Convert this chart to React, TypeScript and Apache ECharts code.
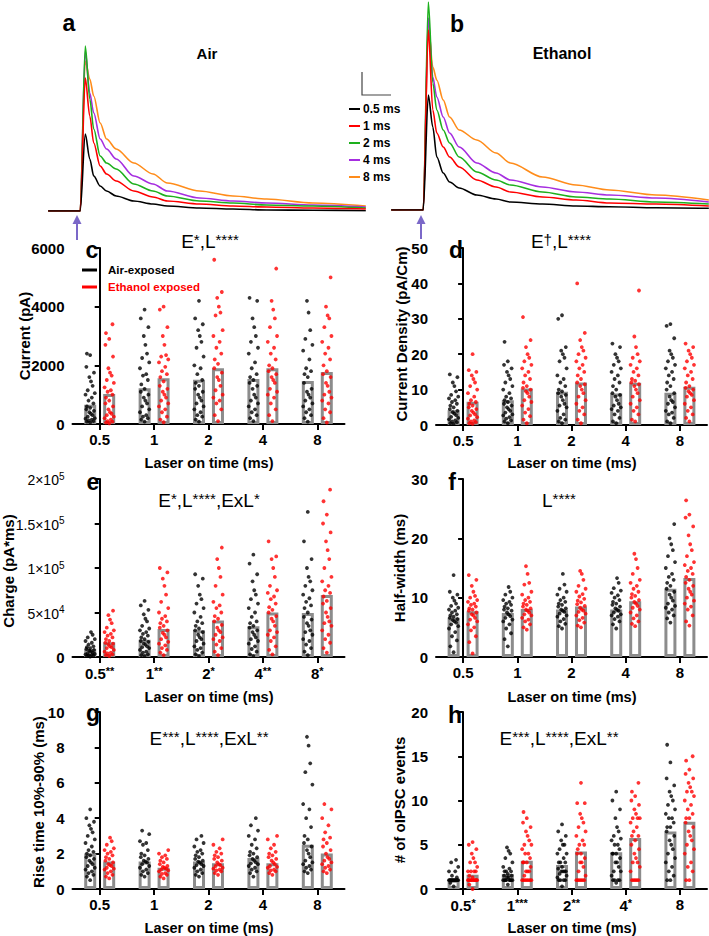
import React, { useEffect, useRef } from 'react';
import * as echarts from 'echarts';

const FONT = '"Liberation Sans", Arial, Helvetica, sans-serif';

// ---------- categories ----------
const LASER = ['0.5', '1', '2', '4', '8'];
const CHARGE_SIG = ['**', '**', '*', '**', '*'];
const EVENTS_SIG = ['*', '***', '**', '*', ''];

// ---------- example traces (height above baseline, arbitrary units) ----------
const TRACE_TIME = [-20.5, -0.5, 2.7, 5.5, 8, 12, 16, 22, 33, 45, 54, 74, 95, 116, 145, 178];
const AIR_T05 = [0, 0, 77, 52, 35, 25, 20, 15, 10, 7, 5, 3, 2, 1, 0.7, 0.3];
const AIR_T1 = [0, 0, 133, 95, 68, 45, 37, 30, 20, 14, 10, 7, 5, 4, 3, 2];
const AIR_T2 = [0, 0, 165, 112, 82, 55, 48, 42, 27, 20, 15, 10, 8, 6, 5, 3];
const AIR_T4 = [0, 0, 160, 118, 98, 72, 62, 52, 35, 27, 20, 13, 10, 8, 6, 4];
const AIR_T8 = [0, 0, 150, 132, 115, 88, 72, 62, 48, 37, 28, 20, 15, 12, 8, 5];
const ETH_T05 = [0, 0, 115, 83, 53, 37, 28, 22, 15, 11, 8, 6, 4, 3.3, 2.3, 1.7];
const ETH_T1 = [0, 0, 180, 100, 77, 63, 53, 43, 30, 23, 18, 13, 10, 7, 6, 4];
const ETH_T2 = [0, 0, 208, 127, 100, 80, 67, 53, 38, 30, 25, 18, 13, 11, 8, 6];
const ETH_T4 = [0, 0, 192, 133, 113, 93, 77, 63, 47, 37, 30, 23, 18, 15, 12, 8];
const ETH_T8 = [0, 0, 186, 143, 130, 110, 93, 80, 70, 57, 47, 33, 25, 20, 15, 10];
const TRACE_NAMES = ['0.5 ms', '1 ms', '2 ms', '4 ms', '8 ms'];
const TRACE_COLORS = ['#000000', '#ff0000', '#1db01d', '#a62ee0', '#ff8c1a'];

// ---------- c: current (pA) ----------
const CURRENT_AIR_MEAN = [657, 1220, 1506, 1530, 1470];
const CURRENT_ETH_MEAN = [1020, 1560, 1900, 1900, 1770];
const CURRENT_AIR = [
  [50, 80, 100, 120, 150, 180, 200, 250, 300, 350, 400, 450, 500, 550, 600, 700, 800, 900, 1000, 1050, 1150, 1300, 1450, 1600, 1750, 1950, 2350, 2400],
  [80, 150, 200, 250, 300, 400, 500, 600, 700, 800, 900, 1000, 1100, 1200, 1350, 1500, 1650, 1700, 1900, 2100, 2250, 2400, 2700, 3000, 3300, 3600, 3900],
  [80, 150, 250, 300, 400, 500, 600, 700, 800, 900, 1000, 1100, 1200, 1300, 1400, 1500, 1700, 1900, 2000, 2300, 2600, 2800, 3000, 3200, 3400, 3600, 4200],
  [100, 200, 300, 400, 500, 600, 700, 800, 900, 1000, 1200, 1300, 1400, 1500, 1600, 1700, 1900, 2100, 2400, 2600, 2800, 3000, 3300, 3600, 4200, 4300],
  [80, 200, 300, 400, 500, 600, 700, 800, 900, 1000, 1100, 1200, 1400, 1600, 1700, 1800, 1900, 2200, 2500, 2700, 2900, 3200, 3800, 4200],
];
const CURRENT_ETH = [
  [20, 50, 80, 100, 150, 200, 250, 300, 350, 400, 500, 600, 700, 800, 900, 1000, 1100, 1150, 1250, 1400, 1500, 1650, 1750, 1900, 2300, 2700, 2900, 3100, 3400],
  [60, 150, 250, 400, 500, 600, 700, 800, 900, 1000, 1100, 1200, 1300, 1450, 1600, 1700, 1800, 1950, 2100, 2200, 2300, 2350, 2700, 3000, 3300, 3900, 4000],
  [100, 300, 500, 700, 800, 900, 1000, 1150, 1300, 1500, 1600, 1750, 1900, 2050, 2200, 2400, 2600, 2800, 3000, 3200, 3700, 3800, 4000, 4300, 4500, 5600],
  [100, 300, 500, 700, 900, 1000, 1100, 1200, 1400, 1500, 1600, 1700, 1800, 1900, 2000, 2200, 2400, 2600, 2800, 3000, 3300, 3600, 3900, 4200, 5300],
  [50, 200, 400, 500, 700, 800, 900, 1000, 1100, 1300, 1400, 1600, 1700, 1800, 2000, 2200, 2400, 2600, 2800, 3000, 3300, 3600, 3700, 4000, 5000],
];

// ---------- d: current density (pA/Cm) ----------
const DENSITY_AIR_MEAN = [4.2, 7.0, 9.4, 8.9, 9.1];
const DENSITY_ETH_MEAN = [6.6, 10.3, 12.0, 11.9, 10.8];
const DENSITY_AIR = [
  [0.3, 0.5, 0.8, 1, 1.3, 1.6, 2, 2.3, 2.8, 3.2, 3.6, 4, 4.5, 5, 5.5, 6, 6.5, 7, 7.5, 8, 8.5, 9.5, 11, 12, 13.5, 14.3],
  [0.5, 1, 1.3, 1.8, 2.2, 2.7, 3, 3.5, 4, 4.5, 5, 5.5, 6, 6.5, 7, 7.5, 8, 9, 10, 11, 12, 13, 14, 15, 16, 17, 18, 23.5],
  [0.5, 1, 1.5, 2, 3, 4, 5, 5.5, 6, 7, 8, 8.5, 9, 9.5, 10, 11, 12, 13, 14, 16, 18, 19, 20, 21, 22, 30, 31],
  [0.5, 1, 2, 3, 4, 4.5, 5, 5.5, 6, 7, 8, 8.5, 9, 10, 11, 12, 13, 14, 15, 16, 17, 18, 19, 20, 22, 23],
  [0.5, 1, 2, 3, 3.5, 4, 5, 6, 6.5, 7, 8, 9, 10, 11, 12, 13, 14, 15, 16, 17, 18, 19, 20, 21, 24.5, 28, 28.5],
];
const DENSITY_ETH = [
  [0.3, 0.5, 0.8, 1, 1.3, 1.8, 2.2, 2.7, 3, 3.5, 4, 4.5, 5, 5.5, 6, 6.5, 7, 8, 9, 10, 11, 12, 13, 14, 15, 15.5, 20],
  [0.5, 1.5, 2.5, 3.5, 4.5, 5.5, 6.5, 7, 8, 9, 9.5, 10, 10.5, 11, 12, 13, 14, 15, 16, 17, 18, 19, 20, 22, 24, 30.5],
  [0.5, 1.5, 3, 4, 5, 6, 7, 8, 9, 10, 11, 11.5, 12, 13, 14, 15, 16, 17, 18, 19, 20, 21, 22, 24, 26, 40],
  [1, 1.5, 3, 4, 5, 6, 7, 8, 9, 10, 11, 11.5, 12, 12.5, 13, 14, 15, 16, 17, 18, 19, 20, 22, 25, 38],
  [1, 2, 3, 4, 5, 6, 7, 8, 8.5, 9, 9.5, 10, 10.5, 11, 12, 13, 14, 15, 16, 17, 18, 19, 20, 21, 22, 23],
];

// ---------- e: charge (pA*ms) ----------
const CHARGE_AIR_MEAN = [9000, 19500, 30000, 34500, 49400];
const CHARGE_ETH_MEAN = [16500, 31500, 41000, 50000, 69700];
const CHARGE_AIR = [
  [500, 1000, 1500, 2000, 2500, 3000, 3500, 4000, 5000, 6000, 7000, 8000, 9000, 10000, 11000, 12000, 14000, 16000, 18000, 20000, 22000, 25000, 28000],
  [1000, 2000, 3000, 5000, 6000, 8000, 10000, 11000, 12000, 14000, 15000, 17000, 18000, 20000, 22000, 24000, 26000, 28000, 30000, 32000, 35000, 40000, 43000, 48000, 53000, 58000, 63000],
  [1000, 3000, 5000, 8000, 10000, 12000, 15000, 18000, 20000, 22000, 25000, 28000, 30000, 32000, 35000, 38000, 40000, 45000, 50000, 55000, 60000, 65000, 70000, 80000, 88000, 93000],
  [1000, 3000, 6000, 9000, 12000, 15000, 18000, 20000, 22000, 25000, 28000, 30000, 33000, 35000, 38000, 40000, 45000, 50000, 55000, 60000, 65000, 70000, 75000, 85000, 93000, 105000, 115000],
  [2000, 6000, 10000, 14000, 18000, 20000, 25000, 28000, 30000, 35000, 38000, 42000, 45000, 50000, 55000, 58000, 62000, 66000, 70000, 75000, 80000, 85000, 90000, 100000, 110000, 130000, 163000],
];
const CHARGE_ETH = [
  [1000, 2000, 3000, 4000, 5000, 6000, 8000, 10000, 11000, 12000, 14000, 15000, 16000, 18000, 20000, 22000, 24000, 26000, 28000, 30000, 33000, 38000, 42000, 47000, 52000],
  [2000, 5000, 8000, 10000, 13000, 15000, 17000, 20000, 22000, 25000, 27000, 30000, 33000, 35000, 38000, 40000, 43000, 46000, 50000, 55000, 62000, 70000, 80000, 88000, 95000, 100000],
  [2000, 6000, 10000, 14000, 18000, 20000, 22000, 25000, 28000, 30000, 33000, 36000, 40000, 43000, 46000, 50000, 55000, 58000, 62000, 70000, 80000, 90000, 100000, 110000, 123000],
  [3000, 8000, 12000, 18000, 22000, 25000, 28000, 30000, 35000, 40000, 43000, 46000, 50000, 53000, 56000, 60000, 65000, 68000, 72000, 75000, 80000, 90000, 100000, 110000, 113000, 130000],
  [5000, 10000, 16000, 20000, 25000, 30000, 35000, 38000, 40000, 45000, 50000, 55000, 60000, 63000, 68000, 72000, 75000, 80000, 85000, 90000, 100000, 110000, 120000, 130000, 140000, 150000, 160000, 175000, 188000],
];

// ---------- f: half-width (ms) ----------
const HALF_AIR_MEAN = [6.6, 7.4, 8.0, 8.0, 11.5];
const HALF_ETH_MEAN = [7.7, 8.1, 8.5, 9.4, 13.3];
const HALF_AIR = [
  [0.8, 1.8, 2.8, 3.5, 4.2, 4.8, 5.2, 5.5, 5.8, 6, 6.2, 6.4, 6.6, 6.8, 7, 7.2, 7.5, 7.8, 8, 8.3, 8.6, 9, 9.5, 10, 10.5, 11, 13.8],
  [1.8, 3, 4, 4.8, 5.5, 6, 6.3, 6.6, 6.9, 7.2, 7.5, 7.8, 8, 8.2, 8.5, 8.8, 9, 9.3, 9.6, 10, 10.5, 11, 11.8],
  [4.8, 5.2, 5.6, 6, 6.4, 6.8, 7, 7.3, 7.6, 7.8, 8, 8.2, 8.5, 8.8, 9, 9.3, 9.6, 10, 10.5, 11, 11.5, 12.2, 14],
  [4.8, 5.5, 6, 6.4, 6.8, 7, 7.2, 7.5, 7.8, 8, 8.2, 8.5, 8.8, 9, 9.3, 9.6, 10, 10.4, 10.8, 11.2, 11.6, 12.5, 13.3],
  [5.8, 6.5, 7, 7.5, 8, 8.3, 8.6, 9, 9.5, 10, 10.5, 11, 11.5, 12, 12.5, 13, 13.5, 14, 15, 16, 17, 18, 19, 20, 22.4],
];
const HALF_ETH = [
  [0.6, 2.5, 3.5, 4.5, 5, 5.5, 6, 6.3, 6.6, 7, 7.2, 7.5, 7.8, 8, 8.2, 8.5, 8.8, 9, 9.3, 9.6, 10, 10.3, 11, 12, 13, 13.8],
  [4.6, 5, 5.5, 6, 6.3, 6.6, 7, 7.2, 7.5, 7.8, 8, 8.2, 8.5, 8.8, 9, 9.3, 9.6, 10, 10.5, 11, 12.2, 12.5, 14, 15.3],
  [5, 5.3, 5.8, 6.2, 6.6, 7, 7.3, 7.6, 7.8, 8, 8.3, 8.6, 8.9, 9.2, 9.5, 9.8, 10.2, 10.6, 11, 11.5, 12, 13, 14, 14.5],
  [5.2, 5.6, 6, 6.5, 7, 7.5, 8, 8.3, 8.6, 9, 9.3, 9.6, 10, 10.3, 10.6, 11, 11.5, 12, 12.5, 13, 14, 15, 16.5, 17.4],
  [5.3, 6, 7, 8, 8.5, 9, 9.5, 10, 10.5, 11, 11.5, 12, 12.5, 13, 13.5, 14, 14.5, 15, 15.5, 16, 17, 18, 19, 20.5, 22, 23.5, 24, 26.4],
];

// ---------- g: rise time (ms) ----------
const RISE_AIR_MEAN = [2.0, 1.55, 1.55, 1.75, 2.5];
const RISE_ETH_MEAN = [1.55, 1.2, 1.45, 1.45, 2.0];
const RISE_AIR = [
  [0.5, 0.7, 0.8, 0.9, 1, 1.1, 1.2, 1.3, 1.4, 1.5, 1.6, 1.7, 1.8, 1.9, 2, 2.1, 2.2, 2.4, 2.6, 2.8, 3, 3.2, 3.4, 3.6, 3.8, 4, 4.5],
  [0.7, 0.8, 0.9, 1, 1.1, 1.2, 1.3, 1.4, 1.5, 1.55, 1.6, 1.7, 1.8, 1.9, 2, 2.2, 2.5, 2.6, 2.7, 3.1, 3.3],
  [0.7, 0.8, 0.9, 1, 1.1, 1.2, 1.3, 1.35, 1.4, 1.5, 1.55, 1.6, 1.7, 1.8, 1.9, 2, 2.1, 2.2, 2.4, 2.6, 2.8, 3],
  [0.7, 0.9, 1, 1.1, 1.2, 1.3, 1.4, 1.45, 1.5, 1.6, 1.7, 1.8, 1.9, 2, 2.1, 2.3, 2.5, 2.8, 3, 3.3, 3.6, 4],
  [0.9, 1, 1.1, 1.2, 1.3, 1.4, 1.5, 1.6, 1.8, 2, 2.2, 2.4, 2.6, 2.8, 3, 3.5, 4, 4.5, 4.8, 5.9, 6.6, 7.1, 8.1, 8.6],
];
const RISE_ETH = [
  [0.6, 0.7, 0.8, 0.9, 1, 1.1, 1.15, 1.2, 1.3, 1.35, 1.4, 1.5, 1.6, 1.7, 1.8, 1.9, 2, 2.1, 2.2, 2.3, 2.5, 2.7, 2.9],
  [0.6, 0.7, 0.8, 0.85, 0.9, 1, 1.05, 1.1, 1.15, 1.2, 1.25, 1.3, 1.4, 1.5, 1.6, 1.7, 1.8, 1.9, 2, 2.2],
  [0.8, 0.9, 1, 1.05, 1.1, 1.15, 1.2, 1.3, 1.35, 1.4, 1.5, 1.6, 1.7, 1.8, 1.9, 2, 2.1, 2.3, 2.5, 2.8],
  [0.8, 0.9, 1, 1.05, 1.1, 1.2, 1.25, 1.3, 1.4, 1.5, 1.6, 1.7, 1.8, 1.9, 2, 2.1, 2.3, 2.5, 2.8, 3],
  [0.9, 1, 1.1, 1.2, 1.3, 1.4, 1.5, 1.6, 1.7, 1.8, 2, 2.2, 2.4, 2.6, 2.8, 2.9, 3.2, 3.6, 4, 4.5, 4.8],
];

// ---------- h: # of oIPSC events ----------
const EVENTS_AIR_MEAN = [1.05, 1.7, 2.7, 4.15, 6.5];
const EVENTS_ETH_MEAN = [1.6, 3.2, 4.25, 5.75, 7.6];
const EVENTS_AIR = [
  [0.3, 0.7, 1, 1, 1, 1, 1, 1, 1, 1, 1, 1, 1, 1, 1, 1.3, 1.5, 2, 2, 2.5, 3, 3.3],
  [0.5, 1, 1, 1, 1, 1, 1, 1, 1, 1.3, 1.3, 1.5, 1.5, 1.7, 2, 2, 2, 2.3, 2.5, 3, 3.5, 4, 4.3, 4.7],
  [0.3, 1, 1, 1, 1, 1.3, 1.5, 1.7, 2, 2, 2, 2, 2.3, 2.5, 3, 3, 3, 3.5, 4, 4, 4.5, 5, 5, 5.5, 6, 6.5, 7.3],
  [0.7, 1, 1, 1, 1, 1.5, 2, 2, 2.5, 3, 3, 3.5, 4, 4, 4, 4.5, 5, 5, 5.5, 5.7, 6, 6.5, 7, 8, 9, 10, 11],
  [1, 1, 1.5, 2, 2.5, 3, 3.5, 4, 4.5, 5, 5.5, 6, 6.5, 7, 7, 7.5, 8, 8, 8.5, 9, 9.5, 10, 10.5, 11, 11.7, 12.5, 14.3, 16.3],
];
const EVENTS_ETH = [
  [0, 0.5, 1, 1, 1, 1, 1, 1, 1, 1, 1, 1, 1, 1.3, 1.5, 2, 2, 2, 2, 2.5, 3, 3, 3.5, 4, 4.5, 5, 5.3],
  [1, 1, 1, 1, 1, 1, 1, 1.5, 2, 2, 2, 2.5, 3, 3, 3, 3.5, 4, 4, 4.5, 5, 5, 5.5, 6, 6.5, 7, 7.5, 8, 8.7],
  [1, 1, 1, 1, 1, 1, 1.5, 2, 2.5, 3, 3, 3.5, 4, 4, 4.5, 5, 5, 5.5, 6, 6.5, 7, 7.5, 8, 8.5, 9.7, 9.7, 12],
  [1, 1, 1, 1, 1, 2, 2.5, 3, 3, 3.5, 4, 4.5, 5, 5.5, 6, 6, 6.5, 7, 7.5, 8, 8, 8, 8.5, 9, 9.5, 10, 10.5, 11, 12],
  [1, 1, 2, 2.5, 3, 4, 4.5, 5, 5.5, 6, 6.5, 7, 7.5, 8, 8, 8.5, 9, 9.5, 10, 10.5, 11, 11, 11.5, 12, 12.5, 13, 13.5, 14.5, 15],
];

// horizontal spread pattern for the dot clouds (fraction of a category band)
const JITTER = [0, -0.06, 0.06, -0.03, 0.03, -0.085, 0.085, -0.045, 0.045, 0.015, -0.015, 0.07, -0.07];
const SIDE_OFFSET = 0.175;

function dots(groups: number[][], side: number) {
  const out: number[][] = [];
  groups.forEach((vals, ci) => {
    vals.forEach((v, j) => {
      out.push([ci + side * SIDE_OFFSET + JITTER[j % JITTER.length], v]);
    });
  });
  return out;
}

function chargeLabel(v: number) {
  if (v === 0) return '{z|0}';
  const map: Record<number, string> = {
    50000: '{b|5×10}{s|4}',
    100000: '{b|1×10}{s|5}',
    150000: '{b|1.5×10}{s|5}',
    200000: '{b|2×10}{s|5}',
  };
  return map[v] || '';
}

function buildOption() {
  const panels = [
    { air: CURRENT_AIR, eth: CURRENT_ETH, airMean: CURRENT_AIR_MEAN, ethMean: CURRENT_ETH_MEAN, max: 6000, interval: 2000, left: 72.5, top: 248, width: 272, height: 176, sig: null as string[] | null, charge: false },
    { air: DENSITY_AIR, eth: DENSITY_ETH, airMean: DENSITY_AIR_MEAN, ethMean: DENSITY_ETH_MEAN, max: 50, interval: 10, left: 436, top: 248, width: 271, height: 177, sig: null, charge: false },
    { air: CHARGE_AIR, eth: CHARGE_ETH, airMean: CHARGE_AIR_MEAN, ethMean: CHARGE_ETH_MEAN, max: 200000, interval: 50000, left: 72.5, top: 479, width: 272, height: 178, sig: CHARGE_SIG, charge: true },
    { air: HALF_AIR, eth: HALF_ETH, airMean: HALF_AIR_MEAN, ethMean: HALF_ETH_MEAN, max: 30, interval: 10, left: 436, top: 479, width: 271, height: 178, sig: null, charge: false },
    { air: RISE_AIR, eth: RISE_ETH, airMean: RISE_AIR_MEAN, ethMean: RISE_ETH_MEAN, max: 10, interval: 2, left: 72.5, top: 712, width: 272, height: 177, sig: null, charge: false },
    { air: EVENTS_AIR, eth: EVENTS_ETH, airMean: EVENTS_AIR_MEAN, ethMean: EVENTS_ETH_MEAN, max: 20, interval: 5, left: 436, top: 712, width: 271, height: 177, sig: EVENTS_SIG, charge: false },
  ];

  const grid: any[] = [
    { left: 48, top: 0, width: 317, height: 211, outerBoundsMode: 'none' },
    { left: 392, top: 0, width: 317, height: 210, outerBoundsMode: 'none' },
  ];
  const xAxis: any[] = [
    { type: 'value', gridIndex: 0, min: -20.6, max: 177.5, show: false },
    { type: 'value', gridIndex: 1, min: -20, max: 178.1, show: false },
  ];
  const yAxis: any[] = [
    { type: 'value', gridIndex: 0, min: 0, max: 211, show: false },
    { type: 'value', gridIndex: 1, min: 0, max: 210, show: false },
  ];
  const series: any[] = [];

  const airTraces = [AIR_T05, AIR_T1, AIR_T2, AIR_T4, AIR_T8];
  const ethTraces = [ETH_T05, ETH_T1, ETH_T2, ETH_T4, ETH_T8];
  [airTraces, ethTraces].forEach((set, gi) => {
    for (let k = 4; k >= 0; k--) {
      series.push({
        type: 'line',
        name: TRACE_NAMES[k],
        xAxisIndex: gi,
        yAxisIndex: gi,
        data: TRACE_TIME.map((t, i) => [t, set[k][i]]),
        symbol: 'none',
        smooth: 0.3,
        smoothMonotone: 'x',
        lineStyle: { color: TRACE_COLORS[k], width: 1.6 },
        z: 2,
      });
    }
  });

  const axisLine = { show: true, lineStyle: { color: '#000', width: 2 } };

  panels.forEach((p, k) => {
    const g = 2 + k;
    grid.push({ left: p.left, top: p.top, width: p.width, height: p.height, outerBoundsMode: 'none' });
    const catIdx = xAxis.length;
    const sig = p.sig;
    xAxis.push({
      type: 'category',
      gridIndex: g,
      data: LASER,
      axisLine,
      axisTick: { show: true, alignWithLabel: true, length: 6, lineStyle: { color: '#000', width: 2 } },
      axisLabel: {
        interval: 0,
        hideOverlap: false,
        margin: 8,
        color: '#000',
        fontSize: 15,
        fontWeight: 'bold',
        fontFamily: FONT,
        formatter: sig
          ? (v: string, i: number) => (sig[i] ? `{n|${v}}{s|${sig[i]}}` : `{n|${v}}`)
          : (v: string) => v,
        rich: sig
          ? {
              n: { fontSize: 15, fontWeight: 'bold', fontFamily: FONT, color: '#000', verticalAlign: 'bottom' },
              s: { fontSize: 11, fontFamily: FONT, color: '#000', verticalAlign: 'bottom', padding: [0, 0, 5, 0] },
            }
          : undefined,
      },
      splitLine: { show: false },
    });
    const valIdx = xAxis.length;
    xAxis.push({ type: 'value', gridIndex: g, min: -0.5, max: 4.5, show: false });
    const yIdx = yAxis.length;
    yAxis.push({
      type: 'value',
      gridIndex: g,
      min: 0,
      max: p.max,
      interval: p.interval,
      axisLine,
      axisTick: { show: true, length: 5, lineStyle: { color: '#000', width: 2 } },
      splitLine: { show: false },
      axisLabel: p.charge
        ? {
            margin: 8,
            formatter: chargeLabel,
            rich: {
              z: { fontSize: 15, fontWeight: 'bold', fontFamily: FONT, color: '#000' },
              b: { fontSize: 14, fontFamily: FONT, color: '#000', verticalAlign: 'bottom' },
              s: { fontSize: 10, fontFamily: FONT, color: '#000', verticalAlign: 'bottom', padding: [0, 0, 6, 0] },
            },
          }
        : {
            margin: 8, color: '#000', fontSize: 15, fontWeight: 'bold', fontFamily: FONT,
            formatter: (v: number) => String(v),
          },
    });

    const barStyle = { color: '#ffffff', borderColor: '#8c8c8c', borderWidth: 3 };
    series.push({
      type: 'bar', name: 'Air-exposed', xAxisIndex: catIdx, yAxisIndex: yIdx,
      data: p.airMean, barWidth: 12, barGap: '58%', itemStyle: barStyle, z: 2,
    });
    series.push({
      type: 'bar', name: 'Ethanol exposed', xAxisIndex: catIdx, yAxisIndex: yIdx,
      data: p.ethMean, barWidth: 12, barGap: '58%', itemStyle: barStyle, z: 2,
    });
    series.push({
      type: 'scatter', name: 'Air-exposed', xAxisIndex: valIdx, yAxisIndex: yIdx,
      data: dots(p.air, -1), symbol: 'circle', symbolSize: 3.8,
      itemStyle: { color: '#000000' }, z: 3,
    });
    series.push({
      type: 'scatter', name: 'Ethanol exposed', xAxisIndex: valIdx, yAxisIndex: yIdx,
      data: dots(p.eth, 1), symbol: 'circle', symbolSize: 3.8,
      itemStyle: { color: '#ff0000' }, z: 3,
    });
  });

  const txt = (text: string, x: number, y: number, extra: any = {}) => ({
    type: 'text', x, y, silent: true, z: 10,
    style: {
      text, fill: '#000', fontFamily: FONT, fontSize: 15, fontWeight: 'bold',
      textAlign: 'center', align: 'center', textVerticalAlign: 'middle', verticalAlign: 'middle',
      ...extra,
    },
  });
  const vtxt = (text: string, x: number, y: number) => ({ ...txt(text, x, y), rotation: Math.PI / 2 });

  const titleRich = {
    n: { fontSize: 19, fontFamily: FONT, fill: '#000', color: '#000', verticalAlign: 'bottom' },
    s: { fontSize: 15, fontFamily: FONT, fill: '#000', color: '#000', verticalAlign: 'bottom', padding: [0, 0, 4, 0] },
  };
  const stat = (text: string, x: number, y: number) => txt(text, x, y, { fontWeight: 'normal', fontSize: 19, rich: titleRich });

  const graphic: any[] = [
    // panel letters
    txt('a', 69, 23, { fontSize: 23 }),
    txt('b', 457, 24, { fontSize: 23 }),
    txt('c', 92, 250, { fontSize: 23 }),
    txt('d', 456, 250, { fontSize: 23 }),
    txt('e', 93, 482, { fontSize: 23 }),
    txt('f', 452, 482, { fontSize: 23 }),
    txt('g', 93, 713, { fontSize: 23 }),
    txt('h', 455, 715, { fontSize: 23 }),
    // trace titles
    txt('Air', 207, 53, { fontSize: 15 }),
    txt('Ethanol', 562, 53, { fontSize: 16 }),
    // statistics
    stat('{n|E}{s|*}{n|,L}{s|****}', 210, 241),
    stat('{n|E}{s|†}{n|,L}{s|****}', 561, 241),
    stat('{n|E}{s|*}{n|,L}{s|****}{n|,ExL}{s|*}', 209, 500),
    stat('{n|L}{s|****}', 559, 500),
    stat('{n|E}{s|***}{n|,L}{s|****}{n|,ExL}{s|**}', 209, 738),
    stat('{n|E}{s|***}{n|,L}{s|****}{n|,ExL}{s|**}', 559, 738),
    // y titles
    vtxt('Current (pA)', 24, 336),
    vtxt('Current Density (pA/Cm)', 401, 334),
    vtxt('Charge (pA*ms)', 8, 571),
    vtxt('Half-width (ms)', 399, 568),
    vtxt('Rise time 10%-90% (ms)', 38, 802),
    vtxt('# of oIPSC events', 399, 800),
    // x titles
    txt('Laser on time (ms)', 209, 463, { fontSize: 14.5 }),
    txt('Laser on time (ms)', 572, 463, { fontSize: 14.5 }),
    txt('Laser on time (ms)', 209, 697, { fontSize: 14.5 }),
    txt('Laser on time (ms)', 572, 697, { fontSize: 14.5 }),
    txt('Laser on time (ms)', 209, 928, { fontSize: 14.5 }),
    txt('Laser on time (ms)', 572, 928, { fontSize: 14.5 }),
    // legend in c
    { type: 'line', silent: true, shape: { x1: 82, y1: 270, x2: 97, y2: 270 }, style: { stroke: '#000', lineWidth: 3 } },
    { type: 'line', silent: true, shape: { x1: 82, y1: 287, x2: 97, y2: 287 }, style: { stroke: '#ff0000', lineWidth: 3 } },
    txt('Air-exposed', 108, 270, { fontSize: 11.5, textAlign: 'left', align: 'left' }),
    txt('Ethanol exposed', 108, 287, { fontSize: 11.5, textAlign: 'left', align: 'left', fill: '#ff0000' }),
    // scale bar
    { type: 'polyline', silent: true, shape: { points: [[362, 72], [362, 95], [391, 95]] }, style: { stroke: '#444', lineWidth: 1.2, fill: 'none' } },
    // stimulus arrows
    { type: 'polygon', silent: true, shape: { points: [[72.5, 224], [77, 215], [81.5, 224]] }, style: { fill: '#7b68c8' } },
    { type: 'line', silent: true, shape: { x1: 77, y1: 222, x2: 77, y2: 240 }, style: { stroke: '#7b68c8', lineWidth: 2 } },
    { type: 'polygon', silent: true, shape: { points: [[416.5, 224], [421, 215], [425.5, 224]] }, style: { fill: '#7b68c8' } },
    { type: 'line', silent: true, shape: { x1: 421, y1: 222, x2: 421, y2: 239 }, style: { stroke: '#7b68c8', lineWidth: 2 } },
  ];
  TRACE_NAMES.forEach((name, i) => {
    const y = 109 + i * 17;
    graphic.push({ type: 'line', silent: true, shape: { x1: 349, y1: y, x2: 360, y2: y }, style: { stroke: TRACE_COLORS[i], lineWidth: 2 } });
    graphic.push(txt(name, 363, y, { fontSize: 12, textAlign: 'left', align: 'left' }));
  });

  return {
    animation: false,
    backgroundColor: '#ffffff',
    textStyle: { fontFamily: FONT },
    grid,
    xAxis,
    yAxis,
    series,
    graphic,
  };
}

export default function App() {
  const ref = useRef<HTMLDivElement>(null);
  useEffect(() => {
    document.body.style.margin = '0';
    const chart = echarts.init(ref.current as HTMLDivElement, null, { renderer: 'svg' });
    chart.setOption(buildOption() as any);
    return () => chart.dispose();
  }, []);
  return (
    <div
      ref={ref}
      style={{ position: 'absolute', left: 0, top: 0, width: 709, height: 936, background: '#fff' }}
    />
  );
}
